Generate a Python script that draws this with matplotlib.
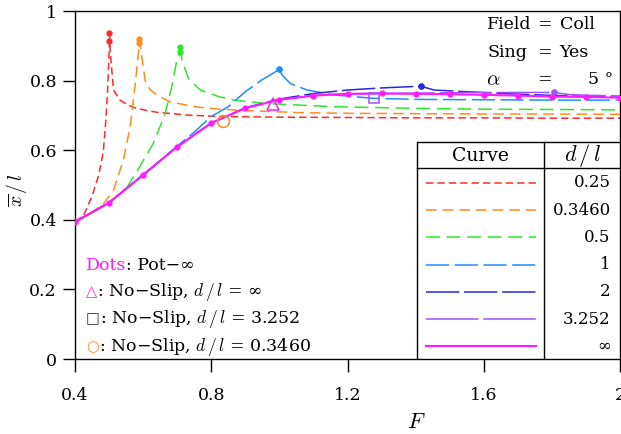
import matplotlib
matplotlib.use("Agg")
import matplotlib.pyplot as plt
from matplotlib.lines import Line2D
from matplotlib.patches import Rectangle

plt.rcParams["font.family"] = ["DejaVu Serif", "DejaVu Sans"]
plt.rcParams["mathtext.fontset"] = "cm"
plt.rcParams["lines.scale_dashes"] = False

# potential-flow reference values (dots), F = 0.4 ... 2.0
pot_F = [0.4, 0.5, 0.6, 0.7, 0.8, 0.9, 1.0, 1.1, 1.2, 1.3, 1.4, 1.5, 1.6, 1.7, 1.8, 1.9, 2.0]
pot_x = [0.394, 0.449, 0.529, 0.610, 0.678, 0.721, 0.745, 0.757, 0.762, 0.763,
         0.762, 0.761, 0.759, 0.757, 0.754, 0.753, 0.751]

# each depth curve: branch below the singular Froude number, branch above it
red_left_F = [0.400, 0.425, 0.450, 0.470, 0.483, 0.490, 0.495, 0.499, 0.501]
red_left_x = [0.394, 0.412, 0.468, 0.530, 0.595, 0.680, 0.760, 0.850, 0.913]
red_right_F = [0.501, 0.503, 0.508, 0.513, 0.532, 0.555, 0.581, 0.64, 0.73, 0.82, 1.0, 1.2, 1.4, 1.6, 1.8, 2.0]
red_right_x = [0.936, 0.890, 0.830, 0.773, 0.744, 0.730, 0.720, 0.709, 0.701, 0.697, 0.695, 0.694, 0.693, 0.693, 0.692, 0.692]

orange_left_F = [0.40, 0.45, 0.483, 0.513, 0.542, 0.562, 0.576, 0.586, 0.589]
orange_left_x = [0.394, 0.422, 0.445, 0.485, 0.572, 0.668, 0.782, 0.878, 0.907]
orange_right_F = [0.589, 0.592, 0.596, 0.606, 0.62, 0.64, 0.679, 0.72, 0.76, 0.822, 0.9, 1.06, 1.2, 1.4, 1.6, 1.8, 2.0]
orange_right_x = [0.921, 0.900, 0.869, 0.800, 0.775, 0.759, 0.739, 0.731, 0.724, 0.718, 0.714, 0.708, 0.706, 0.705, 0.704, 0.704, 0.703]

green_left_F = [0.40, 0.45, 0.50, 0.55, 0.59, 0.63, 0.665, 0.684, 0.699, 0.707]
green_left_x = [0.394, 0.420, 0.451, 0.489, 0.553, 0.620, 0.706, 0.782, 0.859, 0.883]
green_right_F = [0.707, 0.714, 0.733, 0.768, 0.822, 0.866, 0.964, 1.16, 1.415, 1.6, 1.8, 2.0]
green_right_x = [0.897, 0.859, 0.806, 0.773, 0.754, 0.744, 0.734, 0.725, 0.720, 0.718, 0.717, 0.716]

blue_left_F = [0.4, 0.5, 0.6, 0.7, 0.75, 0.8, 0.85, 0.9, 0.95, 1.0]
blue_left_x = [0.394, 0.449, 0.529, 0.612, 0.652, 0.697, 0.725, 0.768, 0.803, 0.832]
blue_right_F = [1.0, 1.008, 1.032, 1.081, 1.16, 1.277, 1.415, 1.6, 1.8, 2.0]
blue_right_x = [0.832, 0.816, 0.792, 0.773, 0.759, 0.749, 0.746, 0.745, 0.744, 0.744]

navy_left_F = [0.4, 0.5, 0.6, 0.7, 0.8, 0.9, 1.0, 1.1, 1.2, 1.3, 1.415]
navy_left_x = [0.394, 0.449, 0.529, 0.610, 0.678, 0.722, 0.747, 0.763, 0.773, 0.779, 0.784]
navy_right_F = [1.415, 1.454, 1.552, 1.7, 1.85, 2.0]
navy_right_x = [0.784, 0.773, 0.768, 0.761, 0.756, 0.752]

purple_left_F = [0.4, 0.5, 0.6, 0.7, 0.8, 0.9, 1.0, 1.1, 1.2, 1.3, 1.4, 1.5, 1.6, 1.7, 1.805]
purple_left_x = [0.394, 0.449, 0.529, 0.610, 0.678, 0.721, 0.745, 0.757, 0.762, 0.763,
                 0.764, 0.765, 0.766, 0.766, 0.766]
purple_right_F = [1.805, 1.85, 1.9, 2.0]
purple_right_x = [0.766, 0.760, 0.758, 0.756]

# no-slip comparison points
noslip_inf = (0.981, 0.734)
noslip_3252 = (1.277, 0.749)
noslip_0346 = (0.833, 0.684)

depth_labels = ["0.25", "0.3460", "0.5", "1", "2", "3.252", "\u221e"]

curves = [
    (red_left_F, red_left_x, red_right_F, red_right_x, "#ff2a2a", (5.3, 2.9)),
    (orange_left_F, orange_left_x, orange_right_F, orange_right_x, "#ff8c1a", (7.7, 4.3)),
    (green_left_F, green_left_x, green_right_F, green_right_x, "#2ee62e", (10, 4.8)),
    (blue_left_F, blue_left_x, blue_right_F, blue_right_x, "#1e8cff", (16.6, 4.1)),
    (navy_left_F, navy_left_x, navy_right_F, navy_right_x, "#2828e0", (24, 3.4)),
    (purple_left_F, purple_left_x, purple_right_F, purple_right_x, "#a050ff", (37.7, 3.6)),
]
magenta = "#ff1aff"
dl = r"$d\,/\,l$"

fig = plt.figure(figsize=(6.21, 4.34), dpi=100)
ax = fig.add_axes([0.1208, 0.1728, 0.8776, 0.8018])

for lF, lx, rF, rx, color, dash in curves:
    ax.plot(lF, lx, color=color, lw=1.1, dashes=dash, marker="o", ms=3.5,
            markevery=[len(lF) - 1], zorder=2)
    ax.plot(rF, rx, color=color, lw=1.1, dashes=dash, marker="o", ms=3.5,
            markevery=[0], zorder=2)

ax.plot(pot_F, pot_x, color=magenta, lw=1.5, zorder=3)
ax.plot(pot_F, pot_x, "o", color=magenta, ms=3.5, zorder=4)

ax.plot(*noslip_inf, marker="^", ms=9, mfc="none", mec=magenta, mew=1.1, zorder=5)
ax.plot(*noslip_3252, marker="s", ms=7.5, mfc="none", mec="#a050ff", mew=1.1, zorder=5)
ax.plot(*noslip_0346, marker="o", ms=8.5, mfc="none", mec="#ff8c1a", mew=1.1, zorder=5)

ax.set_xlim(0.4, 2.0)
ax.set_ylim(0, 1)
ax.set_xticks([0.4, 0.8, 1.2, 1.6, 2.0])
ax.set_xticklabels(["0.4", "0.8", "1.2", "1.6", "2"])
ax.set_yticks([0, 0.2, 0.4, 0.6, 0.8, 1.0])
ax.set_yticklabels(["0", "0.2", "0.4", "0.6", "0.8", "1"])
ax.tick_params(direction="out", length=9, width=1, labelsize=12.5)
ax.tick_params(axis="x", pad=11)
ax.tick_params(axis="y", pad=4)
for sp in ax.spines.values():
    sp.set_linewidth(1)

ax.set_xlabel(r"$F$", fontsize=16)
ax.xaxis.set_label_coords(0.626, -0.15)
ax.set_ylabel(r"$\overline{x}\,/\,l$", fontsize=14)
ax.yaxis.set_label_coords(-0.085, 0.486)

# run parameters, upper right
ax.text(0.756, 0.960, "Field", transform=ax.transAxes, fontsize=12.5, va="center")
ax.text(0.756, 0.880, "Sing", transform=ax.transAxes, fontsize=12.5, va="center")
ax.text(0.754, 0.802, r"$\alpha$", transform=ax.transAxes, fontsize=15, va="center")
for yy in (0.960, 0.880, 0.802):
    ax.text(0.862, yy, "=", transform=ax.transAxes, fontsize=12.5, va="center", ha="center")
ax.text(0.889, 0.960, "Coll", transform=ax.transAxes, fontsize=12.5, va="center")
ax.text(0.889, 0.880, "Yes", transform=ax.transAxes, fontsize=12.5, va="center")
ax.text(0.988, 0.802, "5 \u00b0", transform=ax.transAxes, fontsize=12.5, va="center", ha="right")

# symbol key, lower left
t = ax.text(0.020, 0.270, "Dots", transform=ax.transAxes, fontsize=12.5, va="center", color=magenta)
ax.annotate(": Pot\u2212\u221e", xy=(1, 0.5), xycoords=t, va="center", fontsize=12.5)
key_rows = [
    ("\u25b3", magenta, 0.193, ": No\u2212Slip, " + dl + " = \u221e"),
    ("\u25a1", "#333333", 0.115, ": No\u2212Slip, " + dl + " = 3.252"),
    ("\u25cb", "#ff8c1a", 0.035, ": No\u2212Slip, " + dl + " = 0.3460"),
]
for sym, col, yy, label in key_rows:
    s = ax.text(0.020, yy, sym, transform=ax.transAxes, fontsize=10.5,
                va="center", color=col, family=["DejaVu Sans"])
    ax.annotate(label, xy=(1, 0.5), xycoords=s, va="center", fontsize=12.5)

# curve table, lower right
x0, x1, xs = 0.628, 1.0, 0.861
y_top, y_head = 0.624, 0.549
ax.add_patch(Rectangle((x0, 0), x1 - x0, y_top, transform=ax.transAxes,
                       facecolor="white", edgecolor="black", lw=1, zorder=6))
ax.add_line(Line2D([x0, x1], [y_head, y_head], transform=ax.transAxes, color="black", lw=1, zorder=7))
ax.add_line(Line2D([xs, xs], [0, y_top], transform=ax.transAxes, color="black", lw=1, zorder=7))
ax.text((x0 + xs) / 2, 0.584, "Curve", transform=ax.transAxes, fontsize=13.5,
        ha="center", va="center", zorder=7)
ax.text((xs + x1) / 2, 0.584, dl, transform=ax.transAxes, fontsize=16,
        ha="center", va="center", zorder=7)

row_y = [0.507, 0.428, 0.350, 0.271, 0.193, 0.114, 0.036]
styles = [(c[4], c[5]) for c in curves] + [(magenta, None)]
for (col, dash), yy, lab in zip(styles, row_y, depth_labels):
    kw = dict(dashes=dash) if dash else {}
    ax.add_line(Line2D([0.644, 0.846], [yy, yy], transform=ax.transAxes, color=col,
                       lw=1.1 if dash else 1.5, zorder=7, **kw))
    ax.text(0.983, yy, lab, transform=ax.transAxes, fontsize=12, ha="right",
            va="center", zorder=7)

fig.savefig("out.png", dpi=100)
